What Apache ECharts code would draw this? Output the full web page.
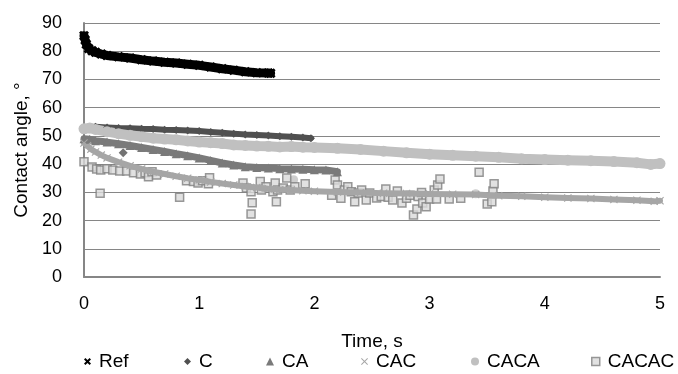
<!DOCTYPE html>
<html>
<head>
<meta charset="utf-8">
<script src="https://cdn.jsdelivr.net/npm/echarts@6/dist/echarts.min.js"></script>
<style>
html,body{margin:0;padding:0;background:#fff;}
#c{width:678px;height:374px;}
</style>
</head>
<body>
<div id="c"></div>
<script>
// ---- data: [time (s), contact angle (deg)] ----
const seriesNames = ['Ref', 'C', 'CA', 'CAC', 'CACA', 'CACAC'];
const xTicks = [0, 1, 2, 3, 4, 5];
const yTicks = [0, 10, 20, 30, 40, 50, 60, 70, 80, 90];

const refData = [[0,85.5],[0.01,84],[0.02,82.5],[0.04,81],[0.07,80.2],[0.1,79.6],[0.15,79],[0.2,78.5],[0.3,78],[0.4,77.6],[0.5,77],[0.6,76.5],[0.7,76.1],[0.8,75.8],[0.9,75.4],[1.0,75],[1.1,74.4],[1.2,73.8],[1.3,73.3],[1.4,72.7],[1.5,72.4],[1.6,72.3],[1.62,72.2]];
const cData = [[0,53],[0.1,53.2],[0.2,53],[0.3,52.8],[0.4,52.7],[0.5,52.5],[0.6,52.4],[0.7,52.2],[0.8,52.1],[0.9,51.9],[1.0,51.7],[1.1,51.4],[1.2,51.1],[1.3,50.8],[1.4,50.5],[1.5,50.3],[1.6,50.1],[1.7,49.9],[1.8,49.7],[1.9,49.4],[1.97,49.2]];
const cOutliers = [[0.34,44]];
const caData = [[0,49],[0.05,48.8],[0.1,48.3],[0.2,47.8],[0.3,47.2],[0.4,46.6],[0.5,45.9],[0.6,45.2],[0.7,44.5],[0.8,43.7],[0.9,43],[1.0,42.2],[1.1,41.3],[1.2,40.4],[1.3,39.7],[1.4,39.1],[1.5,38.8],[1.6,38.6],[1.7,38.4],[1.8,38.3],[1.9,38.2],[2.0,38],[2.1,37.9],[2.2,37.3]];
const cacData = [[0,47.5],[0.03,46.5],[0.06,45.3],[0.1,44.3],[0.15,43.2],[0.2,42.2],[0.3,40.7],[0.4,39.4],[0.5,38.3],[0.6,37.3],[0.7,36.5],[0.8,35.7],[0.9,35],[1.0,34.4],[1.1,33.7],[1.2,33.1],[1.3,32.6],[1.4,32.1],[1.5,31.7],[1.6,31.3],[1.7,31],[1.8,30.8],[1.9,30.6],[2.0,30.4],[2.2,30.1],[2.4,29.9],[2.6,29.7],[2.8,29.6],[3.0,29.4],[3.2,29.3],[3.4,29.2],[3.6,28.8],[3.8,28.6],[4.0,28.3],[4.2,28],[4.4,27.8],[4.6,27.5],[4.8,27.2],[4.95,26.8],[5.0,27]];
const cacaData = [[0,52.5],[0.05,52.8],[0.1,52.3],[0.2,51.5],[0.3,50.8],[0.4,50.2],[0.5,49.7],[0.6,49.2],[0.7,48.9],[0.8,48.6],[0.9,48.2],[1.0,47.8],[1.1,47.6],[1.2,47.3],[1.3,46.8],[1.4,46.6],[1.5,46.4],[1.6,46.3],[1.7,46.1],[1.8,46.2],[1.9,46],[2.0,45.9],[2.2,45.6],[2.4,45.2],[2.6,44.6],[2.8,44],[3.0,43.5],[3.2,43.1],[3.4,42.8],[3.6,42.4],[3.8,41.9],[4.0,41.6],[4.2,41.4],[4.4,41.2],[4.6,40.9],[4.8,40.5],[4.92,39.9],[5.0,40.2]];
const cacaOutliers = [[1.82,34.5],[3.4,29.5]];
const cacacData = [[0,40.8],[0.07,39],[0.11,38.3],[0.145,37.9],[0.2,38.4],[0.25,37.9],[0.31,37.6],[0.37,37.6],[0.43,36.9],[0.49,36.5],[0.53,36.9],[0.56,35.5],[0.59,37.3],[0.63,36.1],[0.14,29.7],[0.83,28.3],[0.89,34.1],[0.95,33.8],[0.99,33.3],[1.03,34.1],[1.08,33],[1.09,35.2],[1.38,33.3],[1.41,31.5],[1.45,30.2],[1.46,26.3],[1.45,22.3],[1.53,33.8],[1.54,30.8],[1.58,32],[1.64,30.2],[1.66,33.3],[1.67,26.7],[1.68,30.8],[1.73,31.5],[1.76,35.1],[1.79,30.8],[1.83,32],[1.92,33],[2.15,29],[2.18,34.4],[2.2,32.6],[2.23,27.9],[2.26,30.8],[2.29,32],[2.32,30.2],[2.35,26.7],[2.38,29.8],[2.41,30.8],[2.45,27.3],[2.48,29.8],[2.54,28],[2.58,28.5],[2.62,31.2],[2.64,28.3],[2.68,27.3],[2.72,30.5],[2.76,26.2],[2.8,27.9],[2.83,29],[2.86,22],[2.89,24.1],[2.9,28.5],[2.93,29.9],[2.94,26.2],[2.97,24.9],[3.0,27.6],[3.04,30.8],[3.06,27.6],[3.07,32.6],[3.09,34.7],[3.17,27.6],[3.27,27.9],[3.43,37.1],[3.5,25.9],[3.54,26.7],[3.55,30.5],[3.56,33]];

// ---- styling ----
const colors = {Ref:'#000000', C:'#505050', CA:'#7a7a7a', CAC:'#a6a6a6', CACA:'#c0c0c0', CACAC:'#d9d9d9'};
const FONT = 'Liberation Sans';
const xIconBold = 'path://M0,2 L2,0 L5,3 L8,0 L10,2 L7,5 L10,8 L8,10 L5,7 L2,10 L0,8 L3,5 Z';
const xIconThin = 'path://M0,1 L1,0 L5,4 L9,0 L10,1 L6,5 L10,9 L9,10 L5,6 L1,10 L0,9 L4,5 Z';

const legendSpec = [
  {name:'Ref', left:84, icon:xIconBold, size:7},
  {name:'C', left:184, icon:'diamond', size:7},
  {name:'CA', left:266, icon:'triangle', size:8},
  {name:'CAC', left:361, icon:xIconThin, size:7},
  {name:'CACA', left:471, icon:'circle', size:8},
  {name:'CACAC', left:591, icon:'rect', size:8}
];
const markers = {Ref:[xIconBold,10], C:['diamond',8], CA:['triangle',9], CAC:[xIconThin,8], CACA:['circle',11]};

function band(name, data, width){
  return {name:name, type:'line', data:data, showSymbol:true, showAllSymbol:true,
    symbol:markers[name][0], symbolSize:markers[name][1],
    lineStyle:{color:colors[name], width:width, join:'round', cap:'round'},
    itemStyle:{color:colors[name]}, silent:true, animation:false};
}

const chart = echarts.init(document.getElementById('c'), null, {renderer:'canvas'});
chart.setOption({
  animation:false,
  backgroundColor:'#ffffff',
  grid:{left:84, right:18, top:23, bottom:97, containLabel:false},
  xAxis:{type:'value', min:xTicks[0], max:xTicks[xTicks.length-1], interval:1,
    name:'Time, s', nameLocation:'middle', nameGap:55,
    nameTextStyle:{fontFamily:FONT, fontSize:19, color:'#000'},
    axisLine:{show:true, lineStyle:{color:'#868686', width:2}},
    axisTick:{show:false}, splitLine:{show:false},
    axisLabel:{fontFamily:FONT, fontSize:18, color:'#000', margin:18}},
  yAxis:{type:'value', min:yTicks[0], max:yTicks[yTicks.length-1], interval:10,
    name:'Contact angle, °', nameLocation:'middle', nameGap:52, nameRotate:90,
    nameTextStyle:{fontFamily:FONT, fontSize:19, color:'#000'},
    axisLine:{show:true, lineStyle:{color:'#868686', width:2}},
    axisTick:{show:false},
    splitLine:{show:true, lineStyle:{color:'#868686', width:1}},
    axisLabel:{fontFamily:FONT, fontSize:18, color:'#000', margin:22}},
  legend: legendSpec.map(s => ({
    left:s.left, top:352, itemWidth:s.size, itemHeight:s.size, itemGap:0, padding:0,
    lineStyle:{width:0, opacity:0, color:'rgba(0,0,0,0)'},
    textStyle:{fontFamily:FONT, fontSize:19, color:'#000', padding:[0,0,0,3]},
    data:[{name:s.name, icon:s.icon,
      itemStyle: s.name==='CACAC' ? {color:'#d9d9d9', borderColor:'#7f7f7f', borderWidth:1.5} : {color:colors[s.name], borderWidth:0}}]
  })),
  series:[
    band('Ref', refData, 9),
    band('C', cData, 6),
    {name:'C', type:'scatter', data:cOutliers, symbol:'diamond', symbolSize:9, itemStyle:{color:colors.C}},
    band('CA', caData, 7),
    band('CAC', cacData, 6),
    band('CACA', cacaData, 10),
    {name:'CACA', type:'scatter', data:cacaOutliers, symbol:'circle', symbolSize:9, itemStyle:{color:colors.CACA}},
    {name:'CACAC', type:'scatter', data:cacacData, symbol:'rect', symbolSize:8,
      itemStyle:{color:'#d9d9d9', borderColor:'#808080', borderWidth:1.5}}
  ]
});
</script>
</body>
</html>
